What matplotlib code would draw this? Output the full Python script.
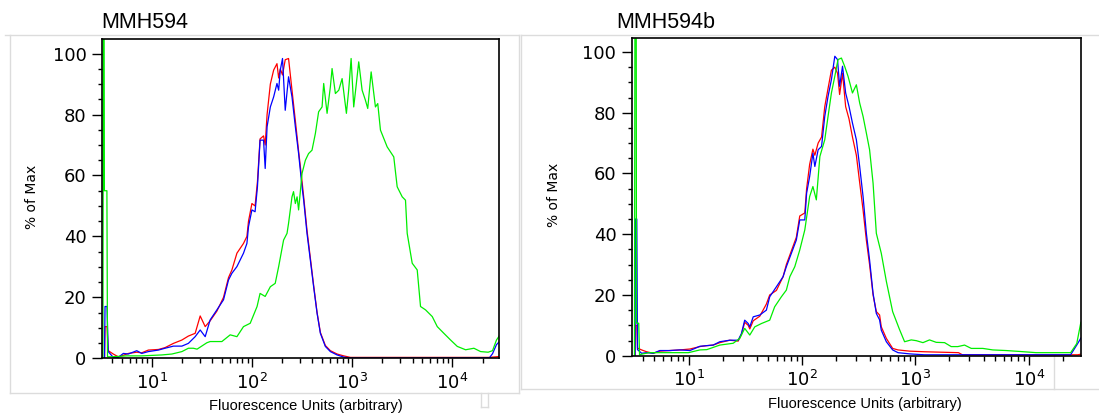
import matplotlib
matplotlib.use("Agg")
import matplotlib.pyplot as plt
from matplotlib.lines import Line2D
from matplotlib.ticker import LogLocator, MultipleLocator, NullFormatter

# ---- data (fluorescence units, % of max) ----
left_x = [3.36, 3.40, 3.56, 3.66, 4.11, 4.61, 5.18, 5.81, 7.05, 7.91, 9.20,
          11.6, 13.5, 16.4, 19.9, 23.1, 27.0, 30.3, 34.0, 38.1, 44.5,
          51.8, 58.1, 62.8, 70.5, 82.0, 88.7, 92.0, 99.5, 107, 113,
          120, 130, 135, 141, 152, 164, 177, 184, 191, 201,
          214, 231, 250, 270, 291, 315, 327, 353, 381, 411,
          445, 480, 538, 604, 705, 820, 957, 5000, 23400, 25100,
          27500, 29500]
left_blue = [0, 17, 17, 2.2, 0.3, 0.3, 1.6, 1.4, 2.5, 1.6, 2.2,
             2.7, 3.3, 4.0, 4.0, 4.9, 7.1, 9.3, 7.1, 12.6, 15.9,
             19.2, 25.7, 27.9, 30.1, 34.5, 37.7, 43.2, 48.7, 48.1, 56.3,
             71.6, 71.6, 62.3, 76, 82.5, 85.8, 90.2, 88, 94.6, 98.4,
             81.4, 92.4, 85.8, 76, 67.2, 56.3, 51.9, 41, 32.3, 23.5,
             14.8, 8.2, 3.9, 2.2, 1.1, 0.4, 0.1, 0.1, 0.2, 1.5,
             4.5, 5.5]
left_red = [0, 10.4, 10.4, 2.5, 1.4, 0.5, 1.0, 1.6, 2.0, 1.8, 2.7,
            2.9, 3.5, 4.9, 6.0, 7.3, 8.2, 13.9, 10.4, 12.3, 15.5,
            20, 26.5, 29, 34.5, 37.7, 40, 45, 50.8, 50, 58,
            72, 73, 70, 80, 90, 94.6, 96.7, 92, 95, 93,
            98, 98.4, 88, 78, 68, 58, 53, 42, 33, 24,
            15, 8.5, 4.2, 2.5, 1.4, 0.8, 0.3, 0.3, 0.3, 0.4,
            0.5, 0.6]
left_green_x = [3.24, 3.27, 3.33, 3.35, 3.55, 3.60, 3.98, 5.62, 7.94, 12.5, 15.8,
                19.9, 23.1, 25.9, 28.2, 35.3, 38.1, 49.9, 60.4, 70.5, 82.0,
                95.7, 112, 120, 135, 152, 170, 184, 206, 223, 231,
                250, 259, 270, 281, 291, 315, 340, 366, 396, 428,
                461, 499, 518, 560, 604, 628, 678, 733, 791, 873,
                920, 973, 1033, 1096, 1159, 1253, 1352, 1426, 1542, 1702,
                1795, 1910, 2228, 2594, 2805, 3148, 3396, 3532, 3963, 4446,
                4797, 5383, 6281, 7047, 8204, 9572, 11170, 13520, 16370, 19100,
                22700, 25100, 27500, 29500]
left_green = [0, 105, 105, 55, 55, 0.5, 0.5, 0.8, 0.8, 1.1, 1.4,
              2.2, 3.3, 3.3, 3.0, 5.1, 5.5, 5.5, 7.7, 7.1, 10.4,
              11.5, 17, 21.3, 20.3, 23.5, 24.6, 30.1, 38.8, 41, 44.3,
              53, 54.7, 50.8, 53, 48.7, 60.7, 65, 67.2, 68.3, 73.8,
              80.9, 82.5, 90.2, 80.4, 89.1, 95.1, 86.9, 88, 91.8, 80.4,
              88, 98.4, 82.5, 90, 97.3, 88, 84.7, 82, 94, 82.5,
              83.6, 74.9, 69.4, 66.1, 56.3, 53, 51.9, 41, 31.2, 29,
              17, 15.9, 13.7, 10.4, 8.2, 6, 3.9, 2.8, 3.3, 2.2,
              2.0, 2.5, 6, 7.5]

right_x = [3.38, 3.40, 3.50, 3.55, 3.86, 4.27, 4.89, 5.58, 6.84, 8.39,
           10.3, 12.6, 14.4, 16.5, 18.9, 23.1, 27.4, 29.3, 31.3, 33.6,
           34.7, 37.2, 42.5, 48.6, 52.0, 59.6, 68.2, 72.9, 80.7, 89.3,
           95.7, 106, 110, 117, 125, 130, 139, 149, 159, 170,
           182, 195, 206, 215, 228, 243, 260, 279, 302, 323,
           346, 370, 395, 424, 453, 484, 501, 555, 631, 703,
           890, 1200, 2400, 2600, 23400, 27000, 28800]
right_blue = [0, 45, 45, 2, 0.8, 1.0, 0.8, 1.7, 1.7, 1.9,
              1.7, 3.1, 3.3, 3.5, 4.6, 5.1, 5.1, 7.3, 11.7, 10.6,
              9.5, 12.8, 13.4, 15, 19.4, 22.7, 26, 29.3, 33.7, 38.1,
              44.7, 44.7, 53.5, 59, 66.7, 62.3, 67.8, 68.9, 78.8, 85.4,
              90.9, 98.6, 97.5, 88.7, 95.3, 86.5, 82.1, 76.6, 71.1, 62.3,
              52.4, 40.3, 31.5, 20.5, 13.9, 11.8, 8.4, 4.6, 1.9, 1.0,
              0.6, 0.3, 0.3, 0.3, 0.3, 4, 5.8]
right_red = [0, 10, 10, 2.5, 1.9, 1.3, 0.8, 1.5, 1.7, 1.9,
             2.2, 3.0, 3.3, 3.5, 4.3, 5.1, 4.8, 7.0, 11.0, 10.0,
             8.8, 11.5, 13.0, 17, 20, 21.5, 26, 30, 34.5, 39,
             46, 47, 55, 63, 68, 66, 70, 72, 82, 88,
             94, 95, 93, 86, 93, 82, 78, 72, 66, 57,
             48, 38, 30, 20, 14.5, 13.4, 9.5, 5.7, 2.4, 1.9,
             1.5, 1.3, 1.0, 0.3, 0.3, 0.3, 0.5]
right_green_x = [3.34, 3.37, 3.46, 3.48, 3.64, 3.70, 3.86, 4.5, 6.0, 8.0,
                 10.0, 12.6, 14.5, 18.9, 24.8, 28.3, 31.3, 34.7, 38.4, 44.0,
                 52.0, 57.5, 65.9, 72.9, 78.2, 86.5, 95.7, 106, 117, 125,
                 134, 144, 159, 170, 182, 195, 208, 223, 238, 255,
                 279, 302, 323, 346, 370, 395, 424, 453, 501, 555,
                 631, 724, 804, 920, 1019, 1167, 1334, 1528, 1811, 2070,
                 2371, 2716, 3112, 3936, 4819, 6310, 8318, 11610, 15240, 23400,
                 26500, 28800]
right_green = [0, 105, 105, 10.7, 10.7, 0.3, 0.5, 1.0, 1.0, 1.0,
               1.0, 1.9, 2.0, 3.5, 4.1, 5.7, 9, 6.8, 9.5, 10.6,
               11.7, 16.1, 19.4, 21.6, 26, 29.3, 34.8, 41.4, 52.4, 55.7,
               51.3, 65.6, 71.1, 78.8, 86.5, 92, 97.5, 98, 95.3, 92,
               86.5, 89.2, 83.2, 78.8, 73.3, 67.8, 56.8, 40.3, 33.7, 24.5,
               14.5, 8.7, 4.6, 5.2, 4.95, 4.3, 5.2, 4.4, 4.3, 3.0,
               3.0, 3.5, 2.4, 2.4, 1.9, 1.7, 1.4, 1.0, 1.0, 1.0,
               4, 11]

titles = ["MMH594", "MMH594b"]
xlabel = "Fluorescence Units (arbitrary)"
ylabel = "% of Max"

W, H = 1099, 416
plt.rcParams["mathtext.default"] = "regular"
fig = plt.figure(figsize=(W / 100, H / 100), dpi=100)


def fx(px):
    return px / W


def fy(py):
    return 1 - py / H


def gray_line(x0, y0, x1, y1):
    fig.add_artist(Line2D([fx(x0), fx(x1)], [fy(y0), fy(y1)], color="#dcdcdc",
                          lw=1, transform=fig.transFigure, zorder=0))


# faint panel frames from the original screenshot
gray_line(5, 35, 519, 35)
gray_line(10, 35, 10, 393)
gray_line(10, 393, 519, 393)
gray_line(519, 35, 519, 393)
gray_line(481, 393, 481, 407)
gray_line(488, 393, 488, 407)
gray_line(481, 407, 488, 407)
gray_line(521, 35, 1099, 35)
gray_line(521, 35, 521, 389)
gray_line(521, 389, 1099, 389)
gray_line(1054, 356, 1054, 389)

ax1 = fig.add_axes([fx(101.7), fy(358.3), fx(498.8 - 101.7), (358.3 - 39.3) / H])
ax2 = fig.add_axes([fx(631.6), fy(355.7), fx(1081.2 - 631.6), (355.7 - 37.7) / H])

panels = [
    (ax1, left_x, left_red, left_x, left_blue, left_green_x, left_green),
    (ax2, right_x, right_red, right_x, right_blue, right_green_x, right_green),
]

for ax, rx, ry, bx, by, gx, gy in panels:
    ax.plot(rx, ry, color="#ff0000", lw=0.9)
    ax.plot(bx, by, color="#0000ff", lw=0.9)
    ax.plot(gx, gy, color="#00ee00", lw=0.9)
    ax.set_xscale("log")
    ax.set_xlim(3.15, 29000)
    ax.set_ylim(0, 104.7)
    ax.yaxis.set_major_locator(MultipleLocator(20))
    ax.yaxis.set_minor_locator(MultipleLocator(5))
    ax.xaxis.set_major_locator(LogLocator(base=10, numticks=10))
    ax.xaxis.set_minor_locator(LogLocator(base=10, subs=range(2, 10), numticks=50))
    ax.xaxis.set_minor_formatter(NullFormatter())
    ax.tick_params(axis="y", which="major", length=7, width=1, labelsize=13, pad=4)
    ax.tick_params(axis="y", which="minor", length=3, width=1)
    ax.tick_params(axis="x", which="major", length=6.5, width=1, labelsize=13, pad=4)
    ax.tick_params(axis="x", which="minor", length=3.5, width=1)
    for s in ax.spines.values():
        s.set_linewidth(1.2)

fig.text(fx(101.7), fy(22), titles[0], fontsize=15.5, family="Liberation Sans", va="center")
fig.text(fx(616.6), fy(22), titles[1], fontsize=15.5, family="Liberation Sans", va="center")
fig.text(fx(306), fy(406), xlabel, fontsize=10.5, family="Liberation Sans", ha="center", va="center")
fig.text(fx(865), fy(404), xlabel, fontsize=10.5, family="Liberation Sans", ha="center", va="center")
fig.text(fx(31.6), fy(197), ylabel, fontsize=10, rotation=90, ha="center", va="center")
fig.text(fx(554), fy(195), ylabel, fontsize=10, rotation=90, ha="center", va="center")

fig.savefig("out.png", dpi=100)
